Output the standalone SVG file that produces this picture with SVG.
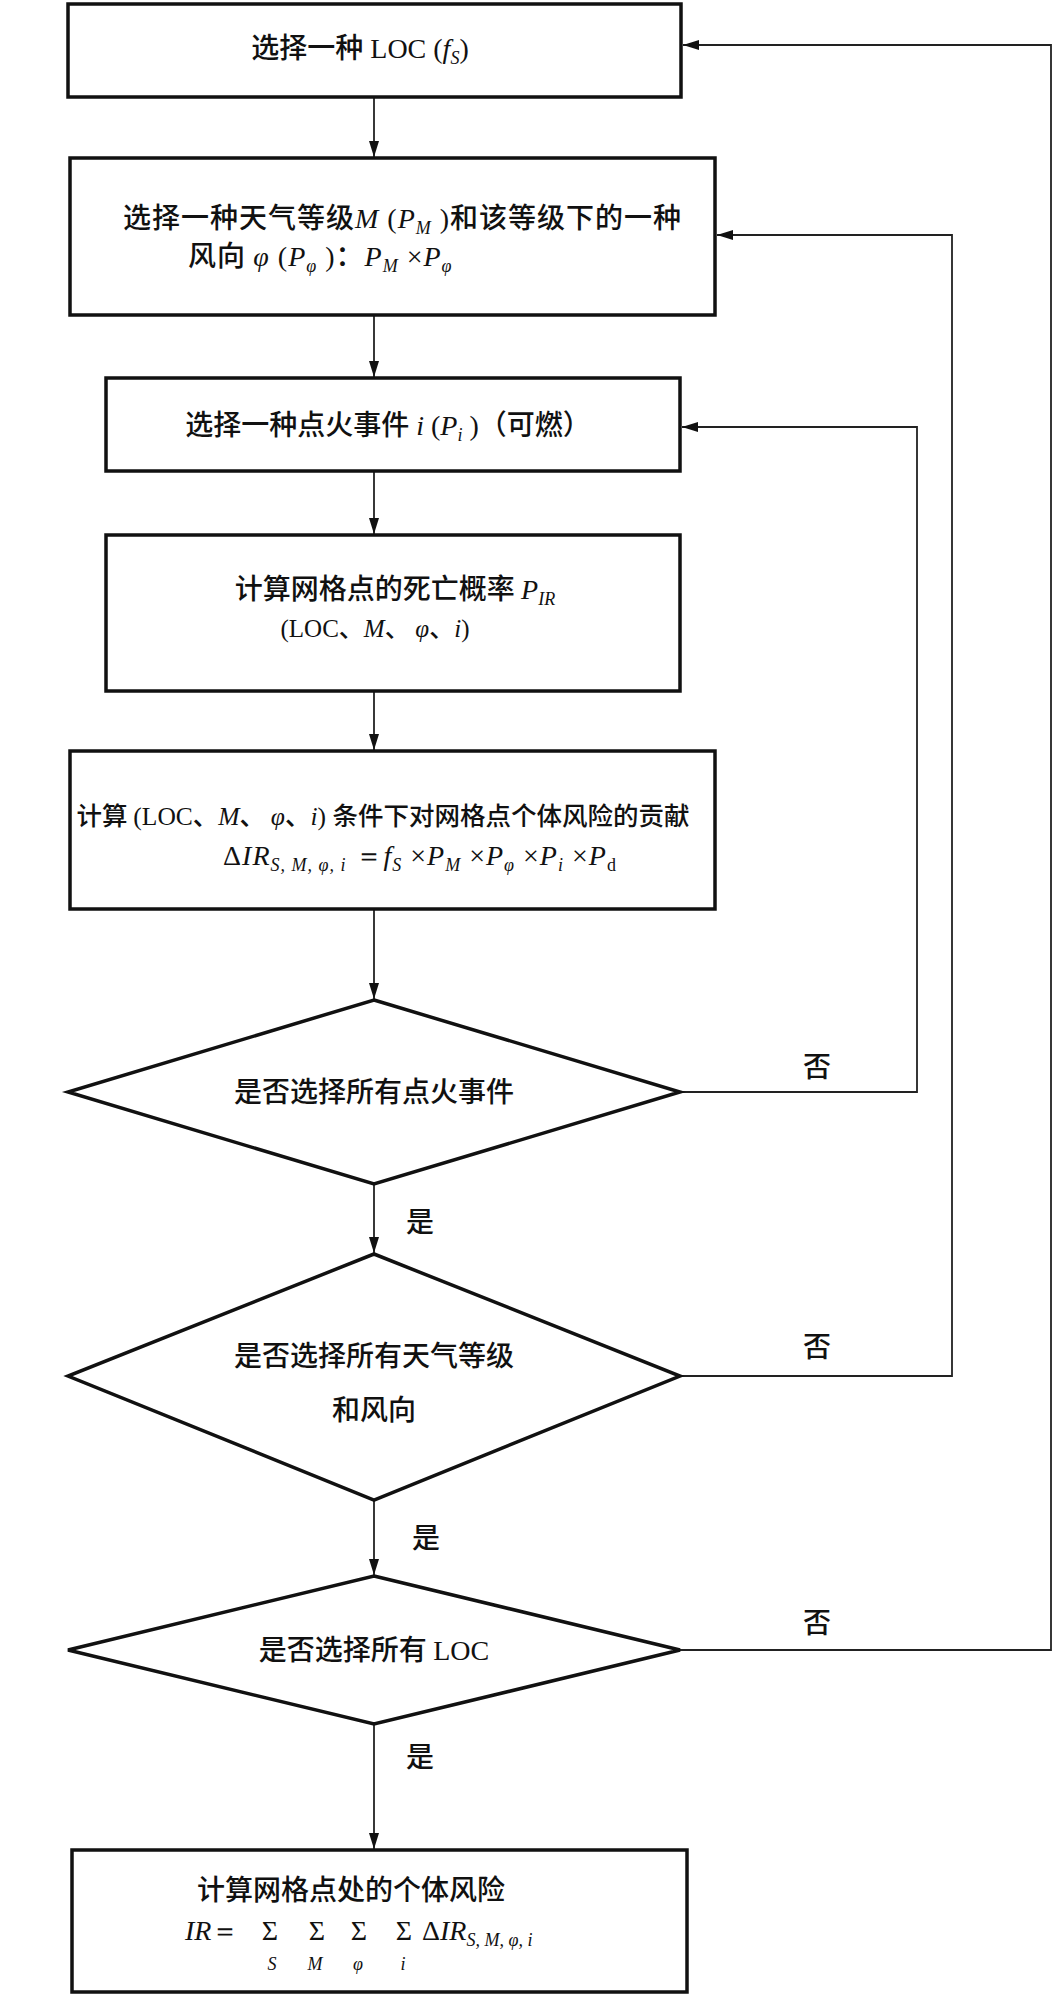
<svg xmlns="http://www.w3.org/2000/svg" width="1054" height="1996" viewBox="0 0 1054 1996">
<defs>
<style>
.box{fill:#fff;stroke:#111;stroke-width:3.5}
.ln{fill:none;stroke:#222;stroke-width:1.8}
text{fill:#111;font-family:"Liberation Serif","Noto Sans CJK SC",serif}
.t{font-size:28px}
.cn{font-family:"Noto Sans CJK SC",sans-serif;font-weight:500}
.m{font-family:"Liberation Serif",serif;font-weight:normal}
.i{font-style:italic}
.s{font-size:18px}
</style>
<marker id="ar" markerUnits="userSpaceOnUse" markerWidth="16" markerHeight="10" refX="16" refY="5" orient="auto">
<path d="M0,0 L16,5 L0,10 Z" fill="#111"/>
</marker>
</defs>
<rect width="1054" height="1996" fill="#fff"/>

<g id="connectors">
<line class="ln" x1="374" y1="97" x2="374" y2="157" marker-end="url(#ar)"/>
<line class="ln" x1="374" y1="315" x2="374" y2="377" marker-end="url(#ar)"/>
<line class="ln" x1="374" y1="471" x2="374" y2="534" marker-end="url(#ar)"/>
<line class="ln" x1="374" y1="691" x2="374" y2="750" marker-end="url(#ar)"/>
<line class="ln" x1="374" y1="909" x2="374" y2="999" marker-end="url(#ar)"/>
<line class="ln" x1="374" y1="1184" x2="374" y2="1253" marker-end="url(#ar)"/>
<line class="ln" x1="374" y1="1500" x2="374" y2="1575" marker-end="url(#ar)"/>
<line class="ln" x1="374" y1="1724" x2="374" y2="1849" marker-end="url(#ar)"/>
<polyline class="ln" points="680,1092 917,1092 917,427 682,427" marker-end="url(#ar)"/>
<polyline class="ln" points="680,1376 952,1376 952,235 717,235" marker-end="url(#ar)"/>
<polyline class="ln" points="680,1650 1051,1650 1051,45 683,45" marker-end="url(#ar)"/>
<text class="t cn" x="817" y="1077" text-anchor="middle">否</text>
<text class="t cn" x="817" y="1357" text-anchor="middle">否</text>
<text class="t cn" x="817" y="1633" text-anchor="middle">否</text>
<text class="t cn" x="420" y="1232" text-anchor="middle">是</text>
<text class="t cn" x="426" y="1548" text-anchor="middle">是</text>
<text class="t cn" x="420" y="1767" text-anchor="middle">是</text>
</g>

<g id="n1">
<rect class="box" x="68" y="4" width="613" height="93"/>
<text class="t" x="360" y="58" text-anchor="middle"><tspan class="cn">选择一种</tspan><tspan class="m"> LOC (</tspan><tspan class="m i">f</tspan><tspan class="m i s" dy="6">S</tspan><tspan class="m" dy="-6">)</tspan></text>
</g>

<g id="n2">
<rect class="box" x="70" y="158" width="645" height="157"/>
<text class="t" x="123" y="228" letter-spacing="1"><tspan class="cn">选择一种天气等级</tspan><tspan class="m i">M </tspan><tspan class="m"> (</tspan><tspan class="m i">P</tspan><tspan class="m i s" dy="6">M</tspan><tspan class="m" dy="-6"> )</tspan><tspan class="cn">和该等级下的一种</tspan></text>
<text class="t" x="188" y="266" letter-spacing="1"><tspan class="cn">风向 </tspan><tspan class="m i">φ</tspan><tspan class="m"> (</tspan><tspan class="m i">P</tspan><tspan class="m i s" dy="6">φ</tspan><tspan class="m" dy="-6"> )</tspan><tspan class="cn">：</tspan><tspan class="m i">P</tspan><tspan class="m i s" dy="6">M</tspan><tspan class="m" dy="-6"> ×</tspan><tspan class="m i">P</tspan><tspan class="m i s" dy="6">φ</tspan></text>
</g>

<g id="n3">
<rect class="box" x="106" y="378" width="574" height="93"/>
<text class="t" x="388" y="435" text-anchor="middle"><tspan class="cn">选择一种点火事件</tspan><tspan class="m i"> i</tspan><tspan class="m"> (</tspan><tspan class="m i">P</tspan><tspan class="m i s" dy="6">i</tspan><tspan class="m" dy="-6"> )</tspan><tspan class="cn">（可燃）</tspan></text>
</g>

<g id="n4">
<rect class="box" x="106" y="535" width="574" height="156"/>
<text class="t" x="395" y="599" text-anchor="middle"><tspan class="cn">计算网格点的死亡概率 </tspan><tspan class="m i">P</tspan><tspan class="m i s" dy="6">IR</tspan></text>
<text x="375" y="637" text-anchor="middle" style="font-size:25px"><tspan class="m">(LOC</tspan><tspan class="cn">、</tspan><tspan class="m i">M</tspan><tspan class="cn">、 </tspan><tspan class="m i">φ</tspan><tspan class="cn">、</tspan><tspan class="m i">i</tspan><tspan class="m">)</tspan></text>
</g>

<g id="n5">
<rect class="box" x="70" y="751" width="645" height="158"/>
<text x="383" y="825" text-anchor="middle" style="font-size:25.5px"><tspan class="cn">计算 </tspan><tspan class="m">(LOC</tspan><tspan class="cn">、</tspan><tspan class="m i">M</tspan><tspan class="cn">、 </tspan><tspan class="m i">φ</tspan><tspan class="cn">、</tspan><tspan class="m i">i</tspan><tspan class="m">) </tspan><tspan class="cn">条件下对网格点个体风险的贡献</tspan></text>
<text class="t" x="420" y="865" text-anchor="middle" letter-spacing="1"><tspan class="m">Δ</tspan><tspan class="m i">IR</tspan><tspan class="m i s" dy="6">S, M, φ, i</tspan><tspan class="m" dy="-6"> ＝</tspan><tspan class="m i">f</tspan><tspan class="m i s" dy="6">S</tspan><tspan class="m" dy="-6"> ×</tspan><tspan class="m i">P</tspan><tspan class="m i s" dy="6">M</tspan><tspan class="m" dy="-6"> ×</tspan><tspan class="m i">P</tspan><tspan class="m i s" dy="6">φ</tspan><tspan class="m" dy="-6">  ×</tspan><tspan class="m i">P</tspan><tspan class="m i s" dy="6">i</tspan><tspan class="m" dy="-6">  ×</tspan><tspan class="m i">P</tspan><tspan class="m s" dy="6">d</tspan></text>
</g>

<g id="d1">
<polygon class="box" points="374,1000 680,1092 374,1184 68,1092"/>
<text class="t cn" x="374" y="1102" text-anchor="middle">是否选择所有点火事件</text>
</g>

<g id="d2">
<polygon class="box" points="374,1254 680,1376 374,1500 68,1376"/>
<text class="t cn" x="374" y="1366" text-anchor="middle">是否选择所有天气等级</text>
<text class="t cn" x="374" y="1420" text-anchor="middle">和风向</text>
</g>

<g id="d3">
<polygon class="box" points="374,1576 680,1650 374,1724 68,1650"/>
<text class="t" x="374" y="1660" text-anchor="middle"><tspan class="cn">是否选择所有 </tspan><tspan class="m">LOC</tspan></text>
</g>

<g id="n6">
<rect class="box" x="72" y="1850" width="615" height="142"/>
<text class="t cn" x="197" y="1900">计算网格点处的个体风险</text>
<text class="t" x="185" y="1940"><tspan class="m i">IR</tspan><tspan class="m">＝</tspan></text>
<text class="t m" x="270" y="1940" text-anchor="middle">Σ</text>
<text class="t m" x="317" y="1940" text-anchor="middle">Σ</text>
<text class="t m" x="359" y="1940" text-anchor="middle">Σ</text>
<text class="t m" x="404" y="1940" text-anchor="middle">Σ</text>
<text class="m i s" x="272" y="1970" text-anchor="middle">S</text>
<text class="m i s" x="315" y="1970" text-anchor="middle">M</text>
<text class="m i s" x="358" y="1970" text-anchor="middle">φ</text>
<text class="m i s" x="403" y="1970" text-anchor="middle">i</text>
<text class="t" x="422" y="1940"><tspan class="m">Δ</tspan><tspan class="m i">IR</tspan><tspan class="m i s" dy="6">S, M, φ, i</tspan></text>
</g>
</svg>
